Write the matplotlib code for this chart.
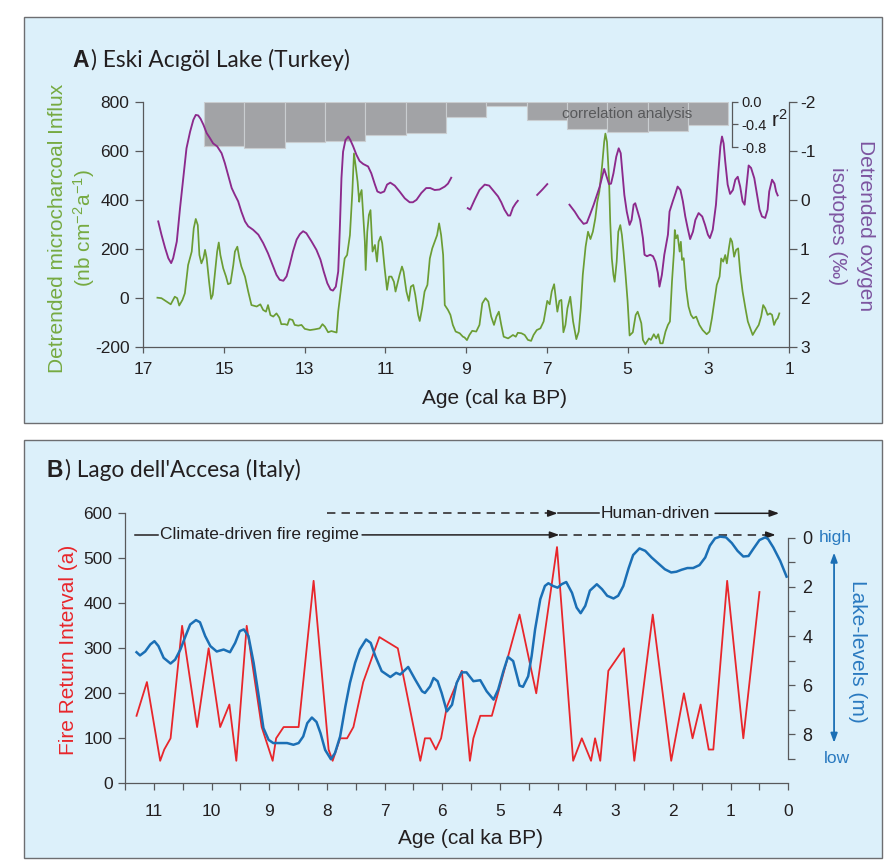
import numpy as np
import matplotlib.pyplot as plt
import matplotlib.transforms as mtransforms
from matplotlib.patches import Rectangle
from matplotlib.ticker import MultipleLocator

plt.rcParams['font.family'] = ['Liberation Sans', 'DejaVu Sans']
plt.rcParams['axes.unicode_minus'] = False
plt.rcParams['mathtext.default'] = 'regular'

# ---------------- A) Eski Acigol Lake ----------------
# detrended microcharcoal influx (nb cm-2 a-1)
charcoal_age = [16.65, 16.55, 16.42, 16.32, 16.22, 16.16, 16.11, 16.03, 15.97, 15.89,
                15.80, 15.75, 15.70, 15.65, 15.61, 15.56, 15.51, 15.47, 15.43, 15.37,
                15.32, 15.28, 15.23, 15.17, 15.13, 15.09, 15.02, 14.95, 14.90, 14.84,
                14.77, 14.73, 14.67, 14.62, 14.57, 14.48, 14.40, 14.32, 14.19, 14.10,
                14.03, 13.96, 13.91, 13.85, 13.78, 13.70, 13.63, 13.58, 13.49, 13.43,
                13.38, 13.30, 13.25, 13.16, 13.08, 13.00, 12.87, 12.75, 12.63, 12.56,
                12.50, 12.42, 12.34, 12.21, 12.17, 12.09, 12.01, 11.95, 11.88, 11.82,
                11.78, 11.74, 11.69, 11.65, 11.63, 11.59, 11.55, 11.51, 11.49, 11.45,
                11.41, 11.37, 11.32, 11.26, 11.21, 11.17, 11.12, 11.08, 11.02, 10.96,
                10.91, 10.85, 10.79, 10.75, 10.69, 10.65, 10.59, 10.55, 10.48, 10.42,
                10.37, 10.31, 10.26, 10.19, 10.15, 10.09, 10.03, 9.96, 9.90, 9.84,
                9.78, 9.72, 9.67, 9.62, 9.57, 9.53, 9.45, 9.39, 9.33, 9.26,
                9.16, 9.08, 9.04, 8.98, 8.92, 8.85, 8.75, 8.67, 8.60, 8.52,
                8.45, 8.38, 8.31, 8.25, 8.19, 8.13, 8.07, 7.96, 7.84, 7.77,
                7.72, 7.63, 7.55, 7.47, 7.39, 7.33, 7.25, 7.16, 7.08, 6.99,
                6.93, 6.88, 6.82, 6.77, 6.74, 6.69, 6.64, 6.59, 6.54, 6.49,
                6.42, 6.35, 6.27, 6.21, 6.16, 6.11, 6.04, 5.98, 5.92, 5.86,
                5.80, 5.75, 5.70, 5.63, 5.58, 5.55, 5.51, 5.46, 5.43, 5.39,
                5.35, 5.32, 5.27, 5.23, 5.18, 5.14, 5.10, 5.05, 5.00, 4.95,
                4.87, 4.80, 4.75, 4.71, 4.66, 4.62, 4.56, 4.47, 4.42, 4.35,
                4.29, 4.24, 4.19, 4.13, 4.06, 4.00, 3.95, 3.90, 3.85, 3.83,
                3.80, 3.76, 3.71, 3.68, 3.65, 3.61, 3.55, 3.49, 3.43, 3.37,
                3.30, 3.22, 3.14, 3.04, 2.97, 2.91, 2.85, 2.79, 2.72, 2.68,
                2.63, 2.58, 2.54, 2.49, 2.45, 2.41, 2.36, 2.31, 2.26, 2.21,
                2.15, 2.08, 2.02, 1.96, 1.90, 1.83, 1.75, 1.69, 1.64, 1.59,
                1.53, 1.47, 1.42, 1.37, 1.32, 1.28, 1.24]
charcoal = [1, -1, -15, -26, 5, -1, -31, -8, 19, 134,
            189, 284, 322, 297, 175, 141, 162, 196, 162, 66,
            -4, 12, 94, 189, 226, 175, 121, 87, 56, 60,
            134, 189, 209, 162, 128, 87, 26, -29, -35, -26,
            -49, -56, -29, -70, -76, -63, -80, -107, -107, -110,
            -86, -90, -110, -113, -110, -126, -131, -128, -124, -107,
            -117, -140, -135, -141, -55, 53, 161, 175, 256, 433,
            589, 541, 474, 392, 420, 440, 338, 229, 114, 270,
            338, 358, 189, 216, 148, 229, 250, 223, 121, 33,
            87, 87, 66, 26, 66, 94, 128, 107, 26, -12,
            46, 53, 12, -69, -94, -42, 26, 53, 161, 202,
            229, 256, 304, 256, 175, -29, -49, -69, -110, -137,
            -144, -158, -161, -172, -151, -134, -137, -110, -22, -1,
            -15, -76, -110, -76, -56, -110, -158, -165, -151, -158,
            -142, -144, -151, -171, -175, -151, -131, -124, -96, -12,
            -26, 26, 56, -12, -56, -12, -8, -140, -110, -42,
            5, -96, -168, -137, -42, 94, 209, 270, 240, 270,
            324, 392, 433, 541, 636, 670, 636, 487, 310, 161,
            94, 66, 148, 270, 297, 256, 189, 94, -12, -153,
            -140, -70, -56, -76, -103, -171, -189, -165, -171, -148,
            -165, -148, -185, -185, -137, -110, -96, 66, 189, 277,
            243, 256, 189, 229, 155, 162, 39, -35, -69, -83,
            -76, -110, -131, -148, -137, -83, -15, 53, 87, 161,
            148, 175, 141, 202, 243, 229, 168, 196, 202, 107,
            26, -42, -96, -124, -151, -131, -110, -76, -29, -42,
            -69, -63, -69, -110, -90, -83, -63]

# detrended oxygen isotopes (permil); nan marks gaps in the record
iso_age = [16.63, 16.55, 16.46, 16.38, 16.31, 16.26, 16.17, 16.09, 16.01, 15.93,
           15.84, 15.76, 15.70, 15.64, 15.58, 15.51, 15.43, 15.35, 15.27, 15.17,
           15.06, 14.98, 14.90, 14.81, 14.73, 14.65, 14.57, 14.48, 14.40, 14.28,
           14.15, 14.03, 13.91, 13.80, 13.70, 13.62, 13.53, 13.45, 13.37, 13.29,
           13.20, 13.12, 13.04, 12.96, 12.83, 12.71, 12.61, 12.53, 12.44, 12.36,
           12.30, 12.23, 12.17, 12.13, 12.09, 12.05, 11.99, 11.92, 11.87, 11.80,
           11.72, 11.64, 11.55, 11.43, 11.35, 11.26, 11.20, 11.12, 11.03, 10.96,
           10.88, 10.77, 10.65, 10.52, 10.40, 10.32, 10.23, 10.11, 9.99, 9.89,
           9.78, 9.66, 9.53, 9.45, 9.37, np.nan,
           8.96, 8.90, 8.79, 8.67, 8.54, 8.43, 8.34, 8.21, 8.13, 8.05,
           7.96, 7.91, 7.84, 7.77, 7.72, np.nan,
           7.24, 7.11, 6.99, np.nan,
           6.44, 6.31, 6.21, 6.09, 6.01, 5.93, 5.84, 5.76, 5.69, 5.63,
           5.58, 5.53, 5.46, 5.41, 5.35, 5.28, 5.22, 5.17, 5.12, 5.08,
           5.02, 4.95, 4.90, 4.85, 4.81, 4.75, 4.69, 4.62, 4.58, 4.52,
           4.44, 4.37, 4.31, 4.25, 4.21, 4.15, 4.09, 4.00, 3.96, 3.88,
           3.81, 3.76, 3.69, 3.63, 3.57, 3.51, 3.45, 3.38, 3.32, 3.24,
           3.15, 3.08, 3.01, 2.96, 2.89, 2.81, 2.75, 2.70, 2.66, 2.62,
           2.58, 2.52, 2.46, 2.39, 2.33, 2.27, 2.21, 2.15, 2.10, 2.05,
           2.00, 1.94, 1.86, 1.79, 1.73, 1.67, 1.59, 1.53, 1.49, 1.42,
           1.36, 1.32, 1.28]
iso = [0.44, 0.71, 0.98, 1.19, 1.29, 1.19, 0.85, 0.17, -0.44, -1.05,
       -1.39, -1.63, -1.73, -1.72, -1.65, -1.53, -1.36, -1.26, -1.15, -1.09,
       -0.95, -0.75, -0.51, -0.24, -0.10, 0.03, 0.24, 0.44, 0.54, 0.61,
       0.71, 0.88, 1.09, 1.32, 1.53, 1.63, 1.65, 1.56, 1.32, 1.05,
       0.81, 0.70, 0.64, 0.68, 0.85, 1.02, 1.22, 1.46, 1.70, 1.83,
       1.85, 1.77, 1.46, 0.58, -0.44, -0.98, -1.22, -1.29, -1.22, -1.09,
       -0.92, -0.79, -0.73, -0.68, -0.54, -0.31, -0.17, -0.14, -0.17, -0.31,
       -0.35, -0.29, -0.17, -0.03, 0.05, 0.05, 0.00, -0.14, -0.24, -0.24,
       -0.20, -0.21, -0.27, -0.33, -0.45, np.nan,
       0.17, 0.20, 0.00, -0.20, -0.31, -0.29, -0.20, -0.07, 0.05, 0.20,
       0.32, 0.32, 0.16, 0.07, 0.02, np.nan,
       -0.10, -0.21, -0.32, np.nan,
       0.10, 0.24, 0.37, 0.49, 0.47, 0.30, 0.10, -0.10, -0.27, -0.47,
       -0.63, -0.50, -0.32, -0.33, -0.54, -0.88, -1.05, -0.95, -0.47, -0.10,
       0.24, 0.51, 0.41, 0.10, 0.07, 0.24, 0.41, 0.78, 1.12, 1.15,
       1.12, 1.15, 1.26, 1.49, 1.77, 1.53, 1.12, 0.71, 0.24, 0.03,
       -0.14, -0.27, -0.20, 0.03, 0.34, 0.58, 0.80, 0.65, 0.41, 0.27,
       0.34, 0.51, 0.71, 0.78, 0.61, 0.10, -0.58, -1.09, -1.29, -1.15,
       -0.78, -0.31, -0.12, -0.20, -0.41, -0.47, -0.27, 0.03, 0.10, -0.31,
       -0.70, -0.65, -0.44, -0.10, 0.20, 0.34, 0.37, 0.20, -0.17, -0.41,
       -0.33, -0.17, -0.09]

# correlation analysis (r2) in 1 ka windows
corr_age = [15, 14, 13, 12, 11, 10, 9, 8, 7, 6, 5, 4, 3]
corr_r2 = [-0.78, -0.82, -0.71, -0.69, -0.59, -0.55, -0.27, -0.08, -0.33, -0.48, -0.53, -0.52, -0.41]

# ---------------- B) Lago dell'Accesa ----------------
fri_age = [11.30, 11.12, 10.89, 10.82, 10.71, 10.51, 10.25, 10.05, 9.85, 9.69,
           9.57, 9.39, 9.13, 8.94, 8.88, 8.75, 8.49, 8.23, 7.97, 7.90,
           7.77, 7.65, 7.54, 7.37, 7.09, 6.77, 6.38, 6.30, 6.21, 6.11,
           6.02, 5.92, 5.66, 5.52, 5.46, 5.34, 5.14, 4.66, 4.37, 4.01,
           3.73, 3.58, 3.42, 3.35, 3.26, 3.12, 2.85, 2.67, 2.35, 2.03,
           1.81, 1.66, 1.52, 1.38, 1.30, 1.06, 0.78, 0.50]
fri = [150, 225, 50, 75, 100, 350, 125, 300, 125, 175,
       50, 350, 125, 50, 100, 125, 125, 450, 75, 50,
       100, 100, 125, 225, 325, 300, 50, 100, 100, 75,
       100, 170, 250, 50, 100, 150, 150, 375, 200, 525,
       50, 100, 50, 100, 50, 250, 300, 50, 375, 50,
       200, 100, 175, 75, 75, 450, 100, 425]

lake_age = [11.30, 11.24, 11.15, 11.06, 10.99, 10.92, 10.83, 10.71, 10.63, 10.54,
            10.45, 10.37, 10.27, 10.20, 10.11, 10.02, 9.91, 9.79, 9.68, 9.59,
            9.51, 9.44, 9.36, 9.27, 9.19, 9.10, 9.01, 8.93, 8.69, 8.58,
            8.49, 8.41, 8.34, 8.26, 8.18, 8.11, 8.03, 7.93, 7.86, 7.77,
            7.68, 7.60, 7.51, 7.43, 7.32, 7.24, 7.16, 7.05, 6.90, 6.80,
            6.73, 6.59, 6.47, 6.35, 6.30, 6.21, 6.15, 6.08, 6.01, 5.92,
            5.83, 5.75, 5.66, 5.58, 5.46, 5.34, 5.23, 5.11, 5.03, 4.94,
            4.86, 4.77, 4.66, 4.60, 4.51, 4.45, 4.39, 4.30, 4.22, 4.16,
            4.08, 4.00, 3.93, 3.85, 3.75, 3.67, 3.60, 3.52, 3.44, 3.32,
            3.23, 3.14, 3.03, 2.95, 2.86, 2.77, 2.69, 2.58, 2.48, 2.37,
            2.26, 2.14, 2.03, 1.94, 1.85, 1.75, 1.65, 1.54, 1.44, 1.36,
            1.27, 1.18, 1.08, 0.98, 0.88, 0.78, 0.69, 0.61, 0.50, 0.40,
            0.35, 0.26, 0.14, 0.03]
lake_level = [4.66, 4.79, 4.63, 4.34, 4.21, 4.41, 4.89, 5.12, 4.96, 4.55,
              4.00, 3.53, 3.35, 3.44, 4.00, 4.41, 4.63, 4.55, 4.66, 4.28,
              3.80, 3.73, 4.00, 5.09, 6.32, 7.75, 8.23, 8.36, 8.36, 8.43,
              8.36, 8.09, 7.55, 7.32, 7.50, 7.96, 8.64, 9.02, 8.77, 8.09,
              6.87, 5.91, 5.09, 4.55, 4.14, 4.28, 4.82, 5.43, 5.67, 5.50,
              5.57, 5.26, 5.77, 6.25, 6.32, 6.05, 5.71, 5.84, 6.32, 7.07,
              6.80, 5.91, 5.48, 5.48, 5.84, 5.80, 6.25, 6.59, 6.18, 5.43,
              4.85, 5.02, 6.02, 6.07, 5.64, 4.82, 3.73, 2.50, 1.96, 1.85,
              1.96, 2.03, 1.89, 1.80, 2.24, 2.84, 3.07, 2.77, 2.15, 1.89,
              2.09, 2.36, 2.47, 2.36, 1.96, 1.25, 0.70, 0.43, 0.53, 0.80,
              1.03, 1.28, 1.41, 1.38, 1.30, 1.23, 1.23, 1.11, 0.80, 0.32,
              0.02, -0.05, -0.02, 0.21, 0.53, 0.76, 0.74, 0.46, 0.09, -0.02,
              0.05, 0.39, 0.94, 1.58]

GREEN = '#6b9d34'
PURPLE = '#8c2a8c'
BAR = '#a2a3a6'
RED = '#e8262b'
BLUE = '#1b6fb5'
BG = '#dcf0fa'
INK = '#231f20'
SPINE = '#58595b'

W, H = 894, 861
fig = plt.figure(figsize=(W / 100, H / 100), dpi=100)


def fx(px):
    return px / W


def fy(py):
    return 1 - py / H


def style(ax):
    ax.set_facecolor('none')
    for s in ax.spines.values():
        s.set_color(SPINE)
        s.set_linewidth(0.9)
    ax.tick_params(colors=SPINE, labelcolor=INK, width=0.9)


# light blue panel boxes
for x0, y0, x1, y1 in [(24, 17, 882, 423), (24, 440, 882, 858)]:
    fig.patches.append(Rectangle((fx(x0), fy(y1)), fx(x1) - fx(x0), fy(y0) - fy(y1),
                                 transform=fig.transFigure, facecolor=BG,
                                 edgecolor='#6d6e71', lw=1.0, zorder=-1))

# ======== panel A ========
axA = fig.add_axes([fx(143.3), fy(347), fx(789) - fx(143.3), fy(101.7) - fy(347)])
axR = axA.twinx()
axIso = axA.twinx()
for a in (axA, axR, axIso):
    style(a)
axR.set_zorder(1)
axA.set_zorder(2)
axIso.set_zorder(3)

axA.plot(charcoal_age, charcoal, color=GREEN, lw=1.25)
axA.set_xlim(17, 1)
axA.set_ylim(-200, 800)
axA.set_xticks(range(17, 0, -2))
axA.set_yticks(range(-200, 801, 200))
axA.spines['top'].set_visible(False)
axA.spines['right'].set_visible(False)
axA.tick_params(axis='x', labelsize=12.5, length=4, pad=7)
axA.tick_params(axis='y', labelsize=12.5, length=6, pad=4)

axIso.plot(iso_age, iso, color=PURPLE, lw=1.35)
axIso.set_ylim(3, -2)
axIso.set_yticks(range(-2, 4))
for s in ('left', 'top', 'bottom'):
    axIso.spines[s].set_visible(False)
axIso.tick_params(axis='y', labelsize=12.5, length=6, pad=2)

axR.bar(corr_age, corr_r2, width=1.0, color=BAR, edgecolor='#c9cdd0', linewidth=0.8)
axR.set_ylim(-4.33, 0)
for s in ('left', 'top', 'bottom'):
    axR.spines[s].set_visible(False)
axR.spines['right'].set_position(('axes', 0.911))
axR.spines['right'].set_bounds(-0.8, 0)
axR.set_yticks([0, -0.4, -0.8])
axR.set_yticklabels(['0.0', '-0.4', '-0.8'])
axR.tick_params(axis='y', labelsize=10.5, length=4, pad=3)
axR.text(5.0, -0.22, 'correlation analysis', fontsize=11, color='#58595b',
         ha='center', va='center')
fig.text(fx(771), fy(120), 'r$^2$', fontsize=15, color=INK, ha='left', va='center')

fig.text(fx(58), fy(228), 'Detrended microcharcoal Influx', rotation=90, fontsize=15,
         color='#76aa41', ha='center', va='center')
fig.text(fx(84), fy(228), '(nb cm$^{-2}$a$^{-1}$)', rotation=90, fontsize=15,
         color='#76aa41', ha='center', va='center')
fig.text(fx(866), fy(226), 'Detrended oxygen', rotation=270, fontsize=15,
         color='#7d55a0', ha='center', va='center')
fig.text(fx(838), fy(226), 'isotopes (‰)', rotation=270, fontsize=15,
         color='#7d55a0', ha='center', va='center')
fig.text(fx(494), fy(398), 'Age (cal ka BP)', fontsize=15, color=INK, ha='center', va='center')

fig.text(fx(89), fy(67), 'A', fontsize=16.5, fontweight='bold', color=INK, ha='right', va='baseline')
fig.text(fx(91), fy(67), ') Eski Acıgöl Lake (Turkey)', fontsize=16.3, family='Lato',
         color=INK, ha='left', va='baseline')

# ======== panel B ========
axB = fig.add_axes([fx(125), fy(783.3), fx(788.3) - fx(125), fy(513.3) - fy(783.3)])
axL = axB.twinx()
style(axB)
style(axL)
axB.set_zorder(1)
axL.set_zorder(2)

axB.plot(fri_age, fri, color=RED, lw=1.3)
axB.set_xlim(11.5, 0)
axB.set_ylim(0, 600)
axB.xaxis.set_major_locator(MultipleLocator(1))
axB.xaxis.set_minor_locator(MultipleLocator(0.5))
axB.set_yticks(range(0, 601, 100))
axB.spines['top'].set_visible(False)
axB.spines['right'].set_visible(False)
axB.tick_params(axis='x', which='both', length=5, width=0.9, color=SPINE)
axB.tick_params(axis='x', labelsize=12.5, pad=10)
axB.tick_params(axis='y', labelsize=12.5, length=5, pad=4)

axL.plot(lake_age, lake_level, color=BLUE, lw=1.8)
axL.set_ylim(10, -1)
axL.set_yticks([0, 2, 4, 6, 8])
axL.set_yticks([1, 3, 5, 7, 9], minor=True)
for s in ('left', 'top', 'bottom'):
    axL.spines[s].set_visible(False)
axL.spines['right'].set_bounds(0, 9)
axL.tick_params(axis='y', which='both', length=5, width=0.9, color=SPINE)
axL.tick_params(axis='y', labelsize=13, pad=5)

# regime arrows
arrow_kw = dict(arrowstyle='-|>,head_length=0.55,head_width=0.2', color=INK, lw=1.1,
                shrinkA=0, shrinkB=0)
dash = (0, (5.5, 4))
y1, y2 = 600, 552
axB.plot([8.0, 4.1], [y1, y1], color=INK, lw=1.1, ls=dash, clip_on=False)
axB.annotate('', xy=(4.0, y1), xytext=(4.1, y1), arrowprops=arrow_kw, annotation_clip=False)
axB.plot([4.0, 3.28], [y1, y1], color=INK, lw=1.1, clip_on=False)
axB.text(2.30, y1, 'Human-driven', fontsize=12.5, color=INK, ha='center', va='center')
axB.annotate('', xy=(0.16, y1), xytext=(1.27, y1), arrowprops=arrow_kw, annotation_clip=False)

axB.plot([11.33, 10.93], [y2, y2], color=INK, lw=1.1, clip_on=False)
axB.text(9.17, y2, 'Climate-driven fire regime', fontsize=12.5, color=INK,
         ha='center', va='center')
axB.annotate('', xy=(3.97, y2), xytext=(7.39, y2), arrowprops=arrow_kw, annotation_clip=False)
axB.plot([3.97, 0.32], [y2, y2], color=INK, lw=1.1, ls=dash, clip_on=False)
axB.annotate('', xy=(0.22, y2), xytext=(0.32, y2), arrowprops=arrow_kw, annotation_clip=False)

# high / low lake-level arrow
tr = mtransforms.blended_transform_factory(axL.transAxes, axL.transData)
axL.annotate('', xy=(1.069, 0.6), xytext=(1.069, 8.35), xycoords=tr, textcoords=tr,
             arrowprops=dict(arrowstyle='<|-|>,head_length=0.55,head_width=0.2',
                             color=BLUE, lw=1.3, shrinkA=0, shrinkB=0),
             annotation_clip=False)
axL.text(1.071, 0.0, 'high', transform=tr, fontsize=12.5, color='#2a7ac0',
         ha='center', va='center', clip_on=False)
axL.text(1.073, 9.0, 'low', transform=tr, fontsize=12.5, color='#2a7ac0',
         ha='center', va='center', clip_on=False)

fig.text(fx(68), fy(650), 'Fire Return Interval (a)', rotation=90, fontsize=15,
         color=RED, ha='center', va='center')
fig.text(fx(857), fy(651), 'Lake-levels (m)', rotation=270, fontsize=15,
         color='#2a7ac0', ha='center', va='center')
fig.text(fx(470), fy(839), 'Age (cal ka BP)', fontsize=15, color=INK, ha='center', va='center')

fig.text(fx(63), fy(477), 'B', fontsize=16.5, fontweight='bold', color=INK, ha='right', va='baseline')
fig.text(fx(65), fy(477), ") Lago dell'Accesa (Italy)", fontsize=16.3, family='Lato',
         color=INK, ha='left', va='baseline')

fig.savefig('out.png', dpi=100)
